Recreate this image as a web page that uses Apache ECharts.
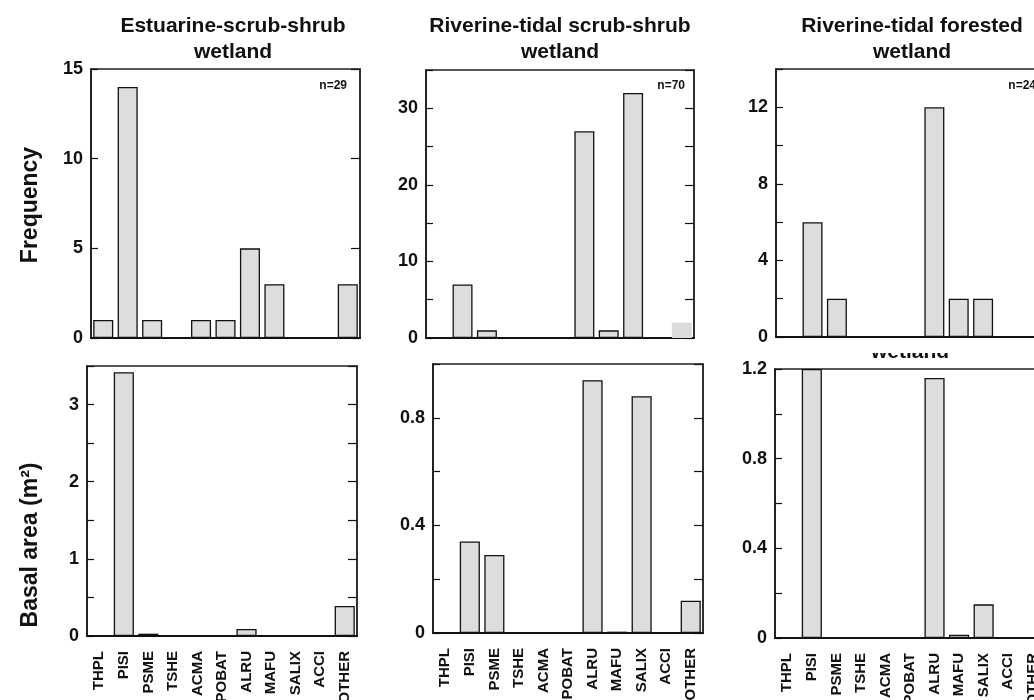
<!DOCTYPE html>
<html>
<head>
<meta charset="utf-8">
<script src="https://cdn.jsdelivr.net/npm/echarts@6/dist/echarts.min.js"></script>
<style>
  html, body { margin: 0; padding: 0; background: #ffffff; }
  #chart { width: 1034px; height: 700px; }
</style>
</head>
<body>
<div id="chart"></div>
<script>
// Tree species codes along the x axis
const species = ['THPL', 'PISI', 'PSME', 'TSHE', 'ACMA', 'POBAT', 'ALRU', 'MAFU', 'SALIX', 'ACCI', 'OTHER'];

// Wetland types (one column of panels each) and their sample sizes
const wetlandTitles = ['Estuarine-scrub-shrub\nwetland', 'Riverine-tidal scrub-shrub\nwetland', 'Riverine-tidal forested\nwetland'];
const sampleSizes = ['n=29', 'n=70', 'n=24'];

// Frequency (number of trees) per species
const freqEstuarineScrub = [1, 14, 1, 0, 1, 1, 5, 3, 0, 0, 3];
const freqRiverineScrub  = [0, 7, 1, 0, 0, 0, 27, 1, 32, 0, 2];
const freqRiverineForest = [0, 6, 2, 0, 0, 0, 12, 2, 2, 0, 0];

// Basal area (m^2) per species
const basalEstuarineScrub = [0, 3.42, 0.03, 0, 0, 0, 0.09, 0, 0, 0, 0.39];
const basalRiverineScrub  = [0, 0.34, 0.29, 0, 0, 0, 0.94, 0.005, 0.88, 0, 0.12];
const basalRiverineForest = [0, 1.2, 0, 0, 0, 0, 1.16, 0.015, 0.15, 0, 0];

// Value-axis extents: maximum, labelled step, tick step
const freqAxisMax   = [15, 35, 14];
const freqLabelStep = [5, 10, 4];
const freqTickStep  = [5, 5, 2];
const basalAxisMax   = [3.5, 1.0, 1.2];
const basalLabelStep = [1, 0.4, 0.4];
const basalTickStep  = [0.5, 0.2, 0.2];

const FONT = '"Liberation Sans", Arial, Helvetica, sans-serif';
const INK = '#111111';
const BAR_FILL = '#dcdddc';

// Plot boxes: three frequency panels on top, three basal-area panels below
const gridBoxes = [
  { left: 91,  top: 69,  width: 269, height: 269 },
  { left: 426, top: 70,  width: 268, height: 268 },
  { left: 776, top: 69,  width: 268, height: 268 },
  { left: 87,  top: 366, width: 270, height: 270 },
  { left: 433, top: 364, width: 270, height: 269 },
  { left: 775, top: 369, width: 270, height: 269 }
];

const panelSeries = [freqEstuarineScrub, freqRiverineScrub, freqRiverineForest,
                     basalEstuarineScrub, basalRiverineScrub, basalRiverineForest];
const panelMax   = freqAxisMax.concat(basalAxisMax);
const panelLabel = freqLabelStep.concat(basalLabelStep);
const panelTick  = freqTickStep.concat(basalTickStep);

function labelFormatter(step) {
  return function (v) {
    const r = v / step;
    if (Math.abs(r - Math.round(r)) > 1e-6) return '';
    return String(parseFloat(v.toFixed(3)));
  };
}

const grid = [], xAxis = [], yAxis = [], series = [];
gridBoxes.forEach(function (box, i) {
  grid.push(Object.assign({
    show: true, borderColor: '#222', borderWidth: 1.5, backgroundColor: 'transparent',
    containLabel: false, outerBoundsMode: 'none'
  }, box));
  xAxis.push({
    type: 'category', gridIndex: i, data: species,
    axisLine: { lineStyle: { color: INK, width: 2 } },
    axisTick: { show: false },
    axisLabel: {
      show: i >= 3, interval: 0, rotate: 90, margin: 15,
      fontFamily: FONT, fontSize: 15, fontWeight: 'bold', color: INK
    }
  });
  // left axis with labels
  yAxis.push({
    type: 'value', gridIndex: i, position: 'left',
    min: 0, max: panelMax[i], interval: panelTick[i],
    axisLine: { show: true, lineStyle: { color: INK, width: 1.5 } },
    axisTick: { show: true, inside: true, length: 7, lineStyle: { color: INK, width: 1.2 } },
    splitLine: { show: false },
    axisLabel: {
      show: true, margin: 8, showMaxLabel: true,
      formatter: labelFormatter(panelLabel[i]),
      fontFamily: FONT, fontSize: 18, fontWeight: 'bold', color: INK
    }
  });
  // right axis carrying the inward ticks
  yAxis.push({
    type: 'value', gridIndex: i, position: 'right',
    min: 0, max: panelMax[i], interval: panelTick[i],
    axisLine: { show: true, lineStyle: { color: '#222', width: 1.5 } },
    axisTick: { show: true, inside: true, length: 9, lineStyle: { color: INK, width: 1.2 } },
    splitLine: { show: false },
    axisLabel: { show: false }
  });
  series.push({
    type: 'bar', xAxisIndex: i, yAxisIndex: 2 * i,
    barWidth: '82%',
    itemStyle: { color: BAR_FILL, borderColor: INK, borderWidth: 1.3 },
    data: panelSeries[i].map(function (v, k) {
      // the unbordered OTHER bar in the riverine scrub-shrub frequency panel
      if (i === 1 && species[k] === 'OTHER') {
        return { value: v, itemStyle: { borderWidth: 0, color: '#dadbda' } };
      }
      // empty categories leave no outline on the axis
      if (v === 0) {
        return { value: v, itemStyle: { borderWidth: 0 } };
      }
      return v;
    }),
    silent: true
  });
});

const graphic = [];
const titleCenters = [233, 560, 912];
titleCenters.forEach(function (cx, j) {
  graphic.push({
    type: 'text', x: cx, y: 13, z: 10,
    style: {
      text: wetlandTitles[j], textAlign: 'center', textVerticalAlign: 'top',
      fontFamily: FONT, fontSize: 21, fontWeight: 'bold', lineHeight: 26, fill: INK
    }
  });
});
// sample sizes in the upper right of each frequency panel
const nRight = [347, 685, 1036];
nRight.forEach(function (xr, j) {
  graphic.push({
    type: 'text', x: xr, y: 86, z: 10,
    style: {
      text: sampleSizes[j], textAlign: 'right', textVerticalAlign: 'middle',
      fontFamily: FONT, fontSize: 12, fontWeight: 'bold', fill: INK
    }
  });
});
// lower-right panel's own title, mostly hidden beneath the panel above
graphic.push({
  type: 'text', x: 910, y: 363, z: 1,
  style: {
    text: 'wetland', textAlign: 'center', textVerticalAlign: 'bottom',
    fontFamily: FONT, fontSize: 21, fontWeight: 'bold', fill: INK
  }
});
graphic.push({
  type: 'rect', z: 2,
  shape: { x: 850, y: 339, width: 120, height: 14 },
  style: { fill: '#ffffff' }
});
// shared value-axis names
graphic.push({
  type: 'text', x: 31, y: 205, rotation: Math.PI / 2, z: 10,
  style: {
    text: 'Frequency', textAlign: 'center', textVerticalAlign: 'middle',
    fontFamily: FONT, fontSize: 23, fontWeight: 'bold', fill: INK
  }
});
graphic.push({
  type: 'text', x: 31, y: 545, rotation: Math.PI / 2, z: 10,
  style: {
    text: 'Basal area (m²)', textAlign: 'center', textVerticalAlign: 'middle',
    fontFamily: FONT, fontSize: 23, fontWeight: 'bold', fill: INK
  }
});

const chart = echarts.init(document.getElementById('chart'), null, { renderer: 'canvas' });
chart.setOption({
  animation: false,
  backgroundColor: '#ffffff',
  grid: grid,
  xAxis: xAxis,
  yAxis: yAxis,
  series: series,
  graphic: graphic
});
</script>
</body>
</html>
